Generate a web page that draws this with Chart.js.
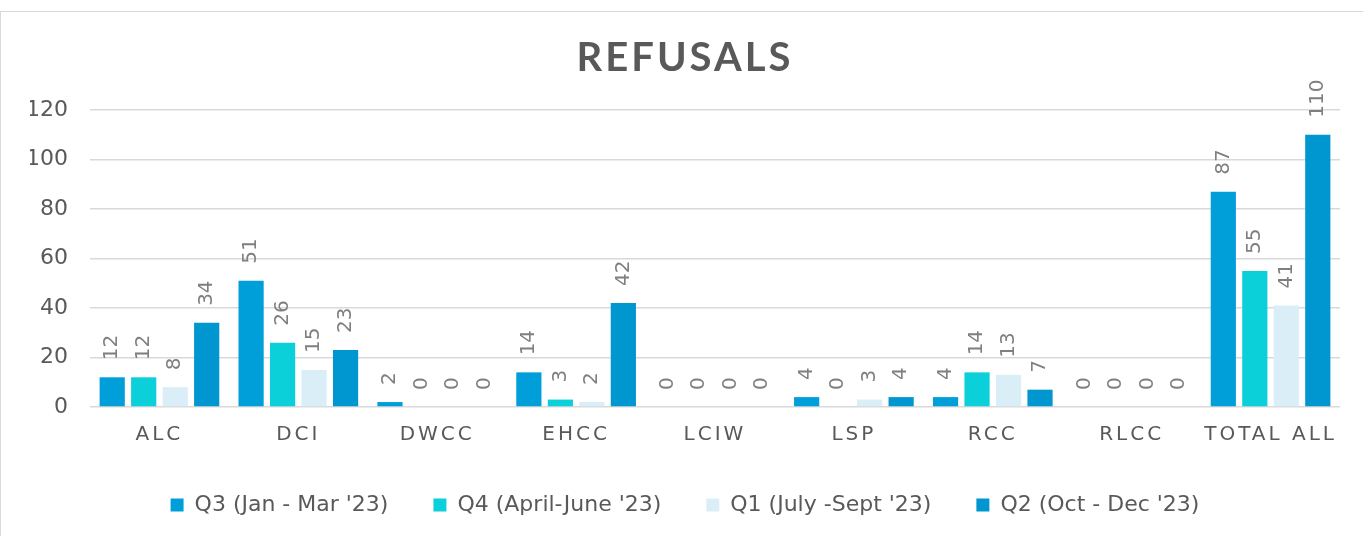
<!DOCTYPE html>
<html>
<head>
<meta charset="utf-8">
<title>Refusals</title>
<script src="https://cdn.jsdelivr.net/npm/chart.js@4.4.1/dist/chart.umd.min.js"></script>
<style>
    html, body { margin: 0; padding: 0; background: #fff; overflow: hidden; }
    #frame {
        position: absolute; left: 0; top: 11px;
        width: 1400px; height: 600px;
        border-top: 1px solid #d9d9d9; border-left: 1px solid #d9d9d9;
    }
    #chartRefusals { position: absolute; left: 0; top: 0; }
</style>
</head>
<body>
<div id="frame"></div>
<canvas id="chartRefusals" width="1363" height="536"></canvas>
<script>
/* ============================================================
   DATOS
============================================================ */
const centros = ["ALC", "DCI", "DWCC", "EHCC", "LCIW", "LSP", "RCC", "RLCC", "TOTAL ALL"];

const q3Ene = [12, 51, 2, 14, 0, 4, 4, 0, 87];
const q4Abr = [12, 26, 0, 3, 0, 0, 14, 0, 55];
const q1Jul = [8, 15, 0, 2, 0, 3, 13, 0, 41];
const q2Oct = [34, 23, 0, 42, 0, 4, 7, 0, 110];

const etiquetas = [
    "Q3 (Jan - Mar '23)",
    "Q4 (April-June '23)",
    "Q1 (July -Sept '23)",
    "Q2 (Oct - Dec '23)"
];

const yTicks = [0, 20, 40, 60, 80, 100, 120];

const GRIS = "#595959";
const FUENTE = "'DejaVu Sans', sans-serif";

/* ============================================================
   PLUGINS
============================================================ */
// espaciado entre letras para el título y las etiquetas del eje X
function conEspaciado(obj, metodo, espacio) {
    if (!obj || obj[metodo]._espaciado) return;
    const original = obj[metodo];
    const fn = function (...args) {
        const ctx = this.ctx;
        const prev = ctx.letterSpacing;
        ctx.letterSpacing = espacio;
        original.apply(this, args);
        ctx.letterSpacing = prev;
    };
    fn._espaciado = true;
    obj[metodo] = fn;
}

const espaciadoPlugin = {
    id: "espaciado",
    afterLayout(chart) {
        conEspaciado(chart.scales.x, "drawLabels", "3px");
        conEspaciado(chart.titleBlock, "draw", "3px");
    }
};

// valores encima de cada barra, girados 90°
const valoresPlugin = {
    id: "valores",
    afterDatasetsDraw(chart) {
        const ctx = chart.ctx;
        ctx.save();
        ctx.font = "20px " + FUENTE;
        ctx.fillStyle = "#7f7f7f";
        ctx.textAlign = "left";
        ctx.textBaseline = "middle";
        chart.data.datasets.forEach((ds, i) => {
            const meta = chart.getDatasetMeta(i);
            meta.data.forEach((bar, j) => {
                ctx.save();
                ctx.translate(bar.x, bar.y - 17);
                ctx.rotate(-Math.PI / 2);
                ctx.fillText(String(ds.data[j]), 0, 0);
                ctx.restore();
            });
        });
        ctx.restore();
    }
};

/* ============================================================
   GRÁFICA
============================================================ */
function serie(label, data, color) {
    return {
        label: label,
        data: data,
        backgroundColor: color,
        borderWidth: 0,
        categoryPercentage: 0.907,
        barPercentage: 0.8
    };
}

new Chart(document.getElementById("chartRefusals"), {
    type: "bar",
    data: {
        labels: centros,
        datasets: [
            serie(etiquetas[0], q3Ene, "#009fda"),
            serie(etiquetas[1], q4Abr, "#0bd0d9"),
            serie(etiquetas[2], q1Jul, "#daeef8"),
            serie(etiquetas[3], q2Oct, "#0096cf")
        ]
    },
    options: {
        responsive: false,
        animation: false,
        layout: { padding: { top: 24, left: 30, right: 23, bottom: 10 } },
        plugins: {
            title: {
                display: true,
                text: "REFUSALS",
                color: GRIS,
                font: { family: "Lato, sans-serif", size: 40, weight: "bold", lineHeight: 1.2 },
                padding: { top: 10, bottom: 28 }
            },
            legend: {
                position: "bottom",
                labels: {
                    boxWidth: 13,
                    boxHeight: 13,
                    padding: 45,
                    color: GRIS,
                    font: { family: FUENTE, size: 22 }
                }
            },
            tooltip: { enabled: false }
        },
        scales: {
            x: {
                afterFit: s => { s.height = 42; },
                grid: { display: false, drawTicks: false },
                border: { display: false },
                ticks: {
                    color: GRIS,
                    font: { family: FUENTE, size: 20 },
                    padding: 16,
                    autoSkip: false,
                    maxRotation: 0
                }
            },
            y: {
                min: 0,
                max: 120,
                afterFit: s => { s.width = 60; },
                afterBuildTicks: s => { s.ticks = yTicks.map(v => ({ value: v })); },
                grid: { color: "#d9d9d9", lineWidth: 1.5, drawTicks: false },
                border: { display: false },
                ticks: {
                    color: GRIS,
                    font: { family: FUENTE, size: 22 },
                    padding: 22
                }
            }
        }
    },
    plugins: [espaciadoPlugin, valoresPlugin]
});
</script>
</body>
</html>
